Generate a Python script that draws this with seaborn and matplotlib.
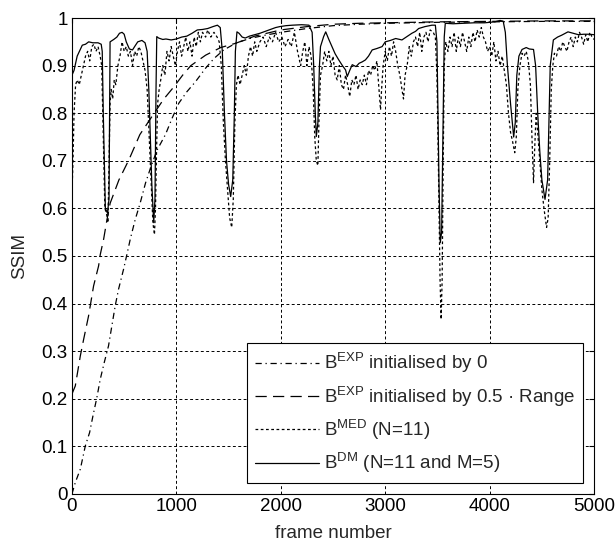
import numpy as np
import pandas as pd
import seaborn as sns
import matplotlib.pyplot as plt
from matplotlib.ticker import FormatStrFormatter

# B^EXP initialised by 0 (dash-dot)
exp0_frame = [0, 32, 80, 128, 169, 201, 239, 271, 309, 350, 382, 414, 446, 494, 526,
              558, 605, 653, 704, 760, 816, 895, 960, 1023, 1100, 1182, 1281, 1360,
              1453, 1568, 1700, 1850, 2000, 2250, 2500, 2750, 3000, 3500, 4000, 4500, 5000]
exp0_ssim = [0.0, 0.024, 0.052, 0.101, 0.129, 0.164, 0.203, 0.241, 0.276, 0.311, 0.353,
             0.395, 0.430, 0.472, 0.503, 0.535, 0.576, 0.611, 0.653, 0.690, 0.723, 0.755,
             0.790, 0.821, 0.845, 0.866, 0.895, 0.915, 0.933, 0.947, 0.957, 0.964, 0.970,
             0.978, 0.984, 0.987, 0.989, 0.991, 0.992, 0.993, 0.993]

# B^EXP initialised by 0.5 * Range (long dash)
exph_frame = [0, 32, 80, 112, 159, 207, 255, 271, 303, 335, 366, 450, 545, 650, 787,
              880, 978, 1060, 1138, 1280, 1424, 1568, 1750, 2000, 2250, 2500, 2750,
              3000, 3500, 4000, 4500, 5000]
exph_ssim = [0.210, 0.227, 0.290, 0.325, 0.374, 0.437, 0.479, 0.503, 0.535, 0.576, 0.611,
             0.660, 0.702, 0.755, 0.800, 0.830, 0.856, 0.880, 0.900, 0.922, 0.938, 0.947,
             0.962, 0.975, 0.982, 0.987, 0.989, 0.990, 0.992, 0.993, 0.994, 0.994]

# B^MED (N=11) (dotted)
med_frame = [0, 10, 20, 35, 50, 70, 90, 110, 130, 150, 170, 190, 210, 230, 250, 270, 285,
             295, 305, 315, 330, 345, 355, 365, 375, 390, 405, 420, 440, 460, 480, 500,
             520, 540, 560, 580, 600, 620, 640, 660, 680, 700, 720, 740, 760, 775, 790,
             800, 810, 820, 835, 850, 870, 890, 910, 930, 950, 970, 990, 1010, 1030,
             1050, 1070, 1090, 1110, 1130, 1150, 1170, 1190, 1210, 1230, 1250, 1280,
             1300, 1330, 1360, 1390, 1410, 1430, 1450, 1470, 1490, 1510, 1530, 1545,
             1560, 1575, 1590, 1610, 1630, 1650, 1670, 1690, 1710, 1730, 1750, 1770,
             1800, 1830, 1860, 1890, 1920, 1950, 1980, 2010, 2040, 2070, 2100, 2130,
             2160, 2190, 2210, 2230, 2250, 2270, 2290, 2310, 2325, 2340, 2355, 2365,
             2380, 2400, 2420, 2440, 2460, 2480, 2500, 2520, 2540, 2560, 2580, 2600,
             2620, 2640, 2660, 2680, 2700, 2720, 2740, 2760, 2780, 2800, 2820, 2840,
             2860, 2880, 2900, 2920, 2940, 2955, 2965, 2980, 3000, 3020, 3040, 3060,
             3080, 3100, 3120, 3140, 3160, 3175, 3190, 3210, 3230, 3250, 3270, 3290,
             3310, 3330, 3350, 3370, 3390, 3410, 3430, 3460, 3480, 3495, 3505, 3515,
             3525, 3535, 3545, 3555, 3565, 3580, 3600, 3620, 3640, 3660, 3680, 3700,
             3720, 3740, 3760, 3780, 3800, 3820, 3840, 3860, 3880, 3900, 3920, 3940,
             3960, 3980, 4000, 4020, 4040, 4060, 4080, 4100, 4120, 4140, 4160, 4180,
             4200, 4220, 4240, 4255, 4270, 4290, 4310, 4330, 4350, 4370, 4390, 4405,
             4420, 4430, 4445, 4460, 4480, 4500, 4520, 4545, 4560, 4575, 4590, 4605,
             4620, 4640, 4660, 4680, 4700, 4720, 4740, 4760, 4780, 4800, 4820, 4840,
             4860, 4880, 4900, 4920, 4940, 4960, 4980, 5000]
med_ssim = [0.63, 0.70, 0.80, 0.86, 0.87, 0.86, 0.88, 0.90, 0.92, 0.93, 0.91, 0.94, 0.945,
            0.93, 0.94, 0.92, 0.90, 0.80, 0.70, 0.60, 0.59, 0.57, 0.70, 0.82, 0.85, 0.83,
            0.87, 0.86, 0.90, 0.92, 0.95, 0.93, 0.94, 0.92, 0.93, 0.90, 0.93, 0.92, 0.94,
            0.93, 0.91, 0.89, 0.85, 0.75, 0.65, 0.57, 0.545, 0.60, 0.72, 0.82, 0.85, 0.87,
            0.90, 0.88, 0.93, 0.91, 0.94, 0.92, 0.90, 0.93, 0.95, 0.92, 0.94, 0.96, 0.93,
            0.95, 0.92, 0.96, 0.94, 0.97, 0.95, 0.97, 0.96, 0.975, 0.96, 0.97, 0.96, 0.95,
            0.90, 0.78, 0.70, 0.64, 0.58, 0.56, 0.62, 0.78, 0.86, 0.88, 0.86, 0.88, 0.90,
            0.88, 0.92, 0.94, 0.92, 0.95, 0.93, 0.95, 0.96, 0.94, 0.96, 0.95, 0.97, 0.95,
            0.96, 0.94, 0.955, 0.94, 0.97, 0.93, 0.90, 0.93, 0.95, 0.90, 0.94, 0.92, 0.85,
            0.75, 0.70, 0.69, 0.78, 0.88, 0.90, 0.93, 0.91, 0.93, 0.90, 0.92, 0.88, 0.87,
            0.90, 0.86, 0.85, 0.88, 0.86, 0.835, 0.87, 0.86, 0.88, 0.85, 0.87, 0.86, 0.88,
            0.86, 0.89, 0.88, 0.90, 0.89, 0.91, 0.85, 0.807, 0.85, 0.90, 0.93, 0.91, 0.94,
            0.92, 0.95, 0.93, 0.90, 0.88, 0.85, 0.83, 0.88, 0.90, 0.94, 0.92, 0.95, 0.96,
            0.94, 0.97, 0.93, 0.96, 0.97, 0.95, 0.975, 0.97, 0.96, 0.88, 0.75, 0.60, 0.45,
            0.367, 0.45, 0.70, 0.90, 0.95, 0.93, 0.96, 0.94, 0.97, 0.93, 0.96, 0.94, 0.97,
            0.95, 0.93, 0.96, 0.94, 0.97, 0.95, 0.975, 0.96, 0.98, 0.96, 0.95, 0.93, 0.94,
            0.92, 0.95, 0.91, 0.93, 0.90, 0.92, 0.89, 0.86, 0.80, 0.76, 0.74, 0.717, 0.75,
            0.85, 0.90, 0.926, 0.92, 0.93, 0.91, 0.86, 0.75, 0.654, 0.72, 0.80, 0.76, 0.70,
            0.64, 0.60, 0.56, 0.58, 0.70, 0.85, 0.90, 0.926, 0.92, 0.94, 0.93, 0.95, 0.94,
            0.93, 0.95, 0.96, 0.94, 0.96, 0.95, 0.97, 0.96, 0.945, 0.965, 0.95, 0.97, 0.96,
            0.955]

# B^DM (N=11 and M=5) (solid)
dm_frame = [0, 20, 50, 99, 130, 160, 200, 250, 280, 290, 300, 310, 320, 340, 355, 360,
            365, 400, 430, 455, 480, 500, 520, 550, 580, 600, 630, 670, 700, 720, 736,
            750, 765, 783, 795, 805, 812, 830, 870, 900, 950, 1000, 1050, 1100, 1150,
            1200, 1250, 1300, 1350, 1393, 1420, 1440, 1460, 1480, 1500, 1520, 1540,
            1555, 1565, 1580, 1600, 1630, 1660, 1700, 1750, 1800, 1850, 1900, 1950,
            1990, 2050, 2110, 2200, 2270, 2300, 2315, 2330, 2340, 2355, 2370, 2380,
            2410, 2430, 2460, 2490, 2520, 2555, 2590, 2620, 2636, 2660, 2684, 2720,
            2750, 2780, 2810, 2840, 2875, 2920, 2970, 3000, 3050, 3100, 3160, 3200,
            3255, 3290, 3320, 3380, 3447, 3480, 3495, 3505, 3515, 3527, 3540, 3555,
            3565, 3575, 3650, 3750, 3850, 3950, 4050, 4100, 4130, 4150, 4170, 4200,
            4230, 4245, 4260, 4280, 4310, 4350, 4380, 4420, 4440, 4460, 4480, 4500,
            4530, 4555, 4570, 4580, 4610, 4650, 4690, 4750, 4800, 4850, 4900, 4950, 5000]
dm_ssim = [0.88, 0.89, 0.92, 0.943, 0.945, 0.95, 0.948, 0.948, 0.945, 0.93, 0.80, 0.70,
           0.60, 0.59, 0.62, 0.80, 0.95, 0.955, 0.96, 0.968, 0.97, 0.966, 0.95, 0.935,
           0.933, 0.94, 0.95, 0.953, 0.948, 0.93, 0.85, 0.75, 0.65, 0.57, 0.62, 0.85,
           0.961, 0.958, 0.955, 0.956, 0.954, 0.956, 0.96, 0.962, 0.968, 0.975, 0.976,
           0.978, 0.982, 0.985, 0.98, 0.93, 0.80, 0.70, 0.65, 0.625, 0.66, 0.80, 0.93,
           0.971, 0.968, 0.96, 0.958, 0.962, 0.965, 0.968, 0.972, 0.976, 0.98, 0.982,
           0.984, 0.985, 0.986, 0.985, 0.97, 0.90, 0.80, 0.751, 0.78, 0.90, 0.94, 0.961,
           0.971, 0.955, 0.94, 0.925, 0.912, 0.90, 0.891, 0.877, 0.89, 0.902, 0.898,
           0.905, 0.908, 0.912, 0.92, 0.933, 0.936, 0.94, 0.95, 0.953, 0.957, 0.954,
           0.96, 0.968, 0.972, 0.978, 0.982, 0.985, 0.985, 0.95, 0.80, 0.65, 0.528,
           0.55, 0.80, 0.96, 0.989, 0.988, 0.989, 0.99, 0.99, 0.992, 0.995, 0.993, 0.97,
           0.90, 0.82, 0.75, 0.78, 0.88, 0.92, 0.934, 0.938, 0.935, 0.934, 0.90, 0.80,
           0.72, 0.66, 0.619, 0.66, 0.80, 0.90, 0.954, 0.96, 0.964, 0.971, 0.968, 0.965,
           0.966, 0.966, 0.965]

labels = [r'B$^{\mathrm{EXP}}$ initialised by 0',
          r'B$^{\mathrm{EXP}}$ initialised by 0.5 · Range',
          r'B$^{\mathrm{MED}}$ (N=11)',
          r'B$^{\mathrm{DM}}$ (N=11 and M=5)']

sns.set_theme(style='white')
plt.rcParams['font.family'] = ['Liberation Sans', 'DejaVu Sans']
plt.rcParams['mathtext.fontset'] = 'custom'
plt.rcParams['mathtext.rm'] = 'Liberation Sans'

fig, ax = plt.subplots(figsize=(6.15, 5.47), dpi=100)
fig.subplots_adjust(left=0.117, right=0.966, top=0.967, bottom=0.097)

series = [(exp0_frame, exp0_ssim, (0, (5, 3, 1, 3))),
          (exph_frame, exph_ssim, (0, (9, 5))),
          (med_frame, med_ssim, (0, (2.2, 2))),
          (dm_frame, dm_ssim, '-')]
for (fr, ss, ls), lab in zip(series, labels):
    sns.lineplot(x=fr, y=ss, ax=ax, color='black', linestyle=ls, linewidth=0.9,
                 label=lab, sort=False)

ax.set_xlim(0, 5000)
ax.set_ylim(0, 1)
ax.set_xticks(np.arange(0, 5001, 1000))
ax.set_yticks(np.arange(0, 1.01, 0.1))
ax.yaxis.set_major_formatter(FormatStrFormatter('%g'))
ax.grid(True, color='black', linestyle=(0, (3, 2.5)), linewidth=0.7)
ax.tick_params(direction='in', top=True, right=True, length=3.5, width=0.8,
               labelsize=13.5, colors='black', pad=3)
for sp in ax.spines.values():
    sp.set_color('black')
    sp.set_linewidth(0.8)
ax.set_xlabel('frame number', fontsize=13.5, labelpad=7)
ax.set_ylabel('SSIM', fontsize=13.5, labelpad=10)

leg = ax.legend(loc='lower right', fontsize=13.5, frameon=True, fancybox=False,
                edgecolor='black', framealpha=1, handlelength=3.4, handletextpad=0.3,
                labelspacing=0.45, borderaxespad=0.6, borderpad=0.4)
leg.get_frame().set_linewidth(0.8)

plt.savefig('out.png', dpi=100)
